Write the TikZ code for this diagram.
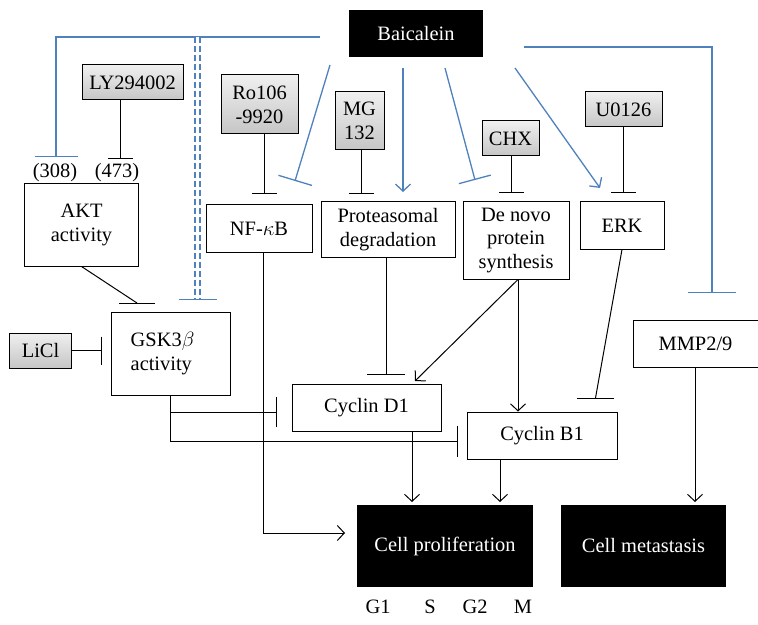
\documentclass[tikz,border=0pt]{standalone}
\usepackage{fontspec}
\setmainfont{Liberation Serif}
\usetikzlibrary{arrows.meta,
	calc,
	positioning}
\definecolor{bl}{HTML}{4F81BD}
\tikzstyle{bx}=[draw, line width=1bp, align=center, inner sep=0pt, font=\fontsize{20.5}{24}\selectfont]
\tikzstyle{drug}=[bx, top color=gray!12, bottom color=gray!45]
\tikzstyle{blk}=[fill=black, inner sep=0pt, text=white, font=\fontsize{20.5}{24}\selectfont]
\tikzstyle{lbl}=[inner sep=0pt, font=\fontsize{20.5}{24}\selectfont]
\tikzstyle{ln}=[line width=1bp]
\tikzstyle{bln}=[draw=bl, line width=1.3bp]
\tikzstyle{arr}=[-{Straight Barb[length=7bp,width=15bp]}]
\tikzset{inh/.style={-{Bar[width=#1]}}, inh/.default=25bp}

\begin{document}
\begin{tikzpicture}[x=1bp, y=-1bp]
\useasboundingbox (0,0) rectangle (758,625);
\node[blk, minimum width=134bp, minimum height=47bp] (baic) at (416,33.5) {Baicalein};
\node[drug, minimum width=101bp, minimum height=35bp] (ly) at (132.5,82.5) {LY294002};
\node[drug, minimum width=77bp, minimum height=59bp] (ro) at (259.5,104.5) {Ro106\\-9920};
\node[drug, minimum width=49bp, minimum height=58bp] (mg) at (359.5,121) {MG\\132};
\node[drug, minimum width=57bp, minimum height=35bp] (chx) at (510.5,138.5) {CHX};
\node[drug, minimum width=77bp, minimum height=35bp] (u0) at (623.5,109.5) {U0126};
\node[lbl] (l308) at (55,173) {(308)};
\node[lbl] (l473) at (117,173) {(473)};
\node[bx, minimum width=113bp, minimum height=82bp] (akt) at (81.5,225) {AKT\\activity};
\node[bx, minimum width=106bp, minimum height=47bp] (nf) at (259,228.5) {NF-$\kappa$B};
\node[bx, minimum width=134bp, minimum height=55bp] (prot) at (388,229.5) {Proteasomal\\degradation};
\node[bx, minimum width=106bp, minimum height=77bp] (denovo) at (516,240.5) {De novo\\protein\\synthesis};
\node[bx, minimum width=84bp, minimum height=47bp] (erk) at (622,225.5) {ERK};
\node[bx, minimum width=119bp, minimum height=83bp, align=left] (gsk) at (170.5,353.5) {GSK3$\beta$\hspace*{16bp}\\activity\hspace*{16bp}};
\node[drug, minimum width=61bp, minimum height=35bp] (licl) at (40.5,350.5) {LiCl};
\node[bx, minimum width=125bp, minimum height=47bp] (mmp) at (695.5,343.5) {MMP2/9};
\node[bx, minimum width=149bp, minimum height=47bp] (cd1) at (366.5,407.5) {Cyclin D1};
\node[bx, minimum width=150bp, minimum height=47bp] (cb1) at (542,435.5) {Cyclin B1};
\node[blk, minimum width=176bp, minimum height=82bp] (prolif) at (445,546) {Cell proliferation};
\node[blk, minimum width=165bp, minimum height=82bp] (meta) at (643.5,546) {Cell metastasis};
\node[lbl] (g1) at (378,607) {G1};
\node[lbl] (s) at (430,607) {S};
\node[lbl] (g2) at (475,607) {G2};
\node[lbl] (m) at (523,607) {M};

\coordinate (bw) at (320,37);
\coordinate (b308) at (56,157);
\coordinate (dd1) at (197.5,37);
\coordinate (dd2) at (197.5,300);
\coordinate (b473) at (120,159);
\coordinate (bnf) at (264,194);
\coordinate (bmg) at (361,194);
\coordinate (bchx) at (511,193);
\coordinate (bu0) at (623,193);
\coordinate (s1) at (330,65);
\coordinate (e1) at (295,181);
\coordinate (s2) at (403,68);
\coordinate (e2) at (403,192);
\coordinate (s3) at (445,68);
\coordinate (e3) at (475,180);
\coordinate (s4) at (515,68);
\coordinate (e4) at (600,188);
\coordinate (be) at (524,47);
\coordinate (bmmp) at (712,293);
\coordinate (bakt) at (137,303);
\coordinate (bprot) at (386,375);
\coordinate (ad1) at (415,381);
\coordinate (berk) at (595.5,398);
\coordinate (lnf) at (263,533);
\coordinate (arp) at (345,533);
\coordinate (bd1) at (277,412);
\coordinate (bb1) at (458,441);
\coordinate (bli) at (102,350.5);
\coordinate (ap1) at (412,502);
\coordinate (ap2) at (500,502);
\coordinate (am) at (695,502);

\draw[bln, inh=43bp] (bw) -| (b308);
\draw[bln, dashed, dash pattern=on 6bp off 3bp, double=white, double distance=3.5bp] (dd1) -- (dd2);
\draw[bln, inh=38bp] ($(dd2)+(0,-1)$) -- (dd2);
\draw[bln, inh=35bp] (s1) -- (e1);
\draw[bln, arr] (s2) -- (e2);
\draw[bln, inh=33bp] (s3) -- (e3);
\draw[bln, arr] (s4) -- (e4);
\draw[bln, inh=48bp] (be) -| (bmmp);

\draw[ln, inh] (ly.south -| b473) -- (b473);
\draw[ln, inh] (ro.south -| bnf) -- (bnf);
\draw[ln, inh] (mg.south -| bmg) -- (bmg);
\draw[ln, inh] (chx.south -| bchx) -- (bchx);
\draw[ln, inh] (u0.south -| bu0) -- (bu0);
\draw[ln] (akt.south) -- (bakt);
\draw[ln] ($(bakt)+(-18,0)$) -- ($(bakt)+(18,0)$);
\draw[ln, inh=28bp] (licl.east) -- (bli);
\draw[ln, inh=38bp] (prot.south -| bprot) -- (bprot);
\draw[ln, arr] ($(denovo.south)+(2,0)$) -- (ad1);
\draw[ln, arr] ($(denovo.south)+(2,0)$) -- (cb1.north -| {$(denovo.south)+(2,0)$});
\draw[ln] (erk.south) -- (berk);
\draw[ln] ($(berk)+(-18.5,0)$) -- ($(berk)+(18.5,0)$);
\draw[ln, arr] (nf.south -| lnf) |- (arp);
\draw[ln, inh=31bp] (gsk.south) |- (bb1);
\draw[ln, inh=30bp] (gsk.south |- bd1) -- (bd1);
\draw[ln, arr] (cd1.south -| ap1) -- (ap1);
\draw[ln, arr] (cb1.south -| ap2) -- (ap2);
\draw[ln, arr] (mmp.south -| am) -- (am);
\end{tikzpicture}
\end{document}
